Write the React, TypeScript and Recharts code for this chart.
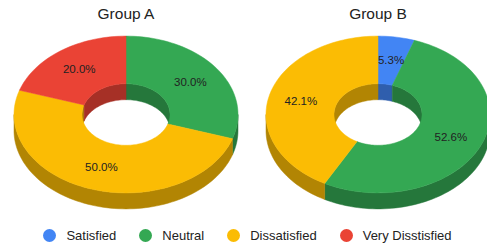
import { Cell, Legend, Pie, PieChart } from 'recharts'

const categories = ['Satisfied', 'Neutral', 'Dissatisfied', 'Very Disstisfied']
const groupA = [0, 3, 5, 2]
const groupB = [1, 10, 8, 0]
const titles = ['Group A', 'Group B']
const colors = ['#4285F4', '#34A853', '#FBBC04', '#EA4335']

const W = 487
const H = 243
const TILT = 0.7
const DEPTH = 16
const RAD = Math.PI / 180
const FONT = '"Liberation Sans", Arial, sans-serif'

function darken(hex: string, k = 0.71) {
  const n = parseInt(hex.slice(1), 16)
  const c = [(n >> 16) & 255, (n >> 8) & 255, n & 255].map((v) => Math.round(v * k))
  return `rgb(${c.join(',')})`
}

// points along an elliptical arc (angles in recharts degrees)
function arc(cx: number, cy: number, r: number, a0: number, a1: number, dy: number) {
  const n = Math.max(2, Math.ceil(Math.abs(a1 - a0) / 2))
  const pts: string[] = []
  for (let i = 0; i <= n; i++) {
    const a = (a0 + ((a1 - a0) * i) / n) * RAD
    pts.push(`${(cx + r * Math.cos(a)).toFixed(2)},${(cy - r * TILT * Math.sin(a) + dy).toFixed(2)}`)
  }
  return pts
}

function walls(cx: number, cy: number, r: number, lo: number, hi: number, from: number, fill: string, key: string) {
  const out: JSX.Element[] = []
  for (let k = -2; k <= 1; k++) {
    const i0 = Math.max(lo, from + 360 * k)
    const i1 = Math.min(hi, from + 180 + 360 * k)
    if (i1 - i0 <= 0) continue
    const pts = [...arc(cx, cy, r, i0, i1, 0), ...arc(cx, cy, r, i1, i0, DEPTH)]
    out.push(<polygon key={key + k} points={pts.join(' ')} fill={fill} stroke={fill} strokeWidth={0.5} />)
  }
  return out
}

function Slice3D(p: any) {
  const { cx, cy, innerRadius, outerRadius, startAngle, endAngle, fill } = p
  const lo = Math.min(startAngle, endAngle)
  const hi = Math.max(startAngle, endAngle)
  if (hi - lo <= 0) return <g />
  const side = darken(fill)
  const top = [...arc(cx, cy, outerRadius, lo, hi, 0), ...arc(cx, cy, innerRadius, hi, lo, 0)]
  return (
    <g>
      {walls(cx, cy, outerRadius, lo, hi, -180, side, 'o')}
      {walls(cx, cy, innerRadius, lo, hi, 0, side, 'i')}
      <polygon points={top.join(' ')} fill={fill} stroke={fill} strokeWidth={0.5} />
    </g>
  )
}

function SliceLabel(p: any) {
  const { cx, cy, midAngle, outerRadius, percent } = p
  if (!percent) return null
  const r = outerRadius * 0.71
  const x = cx + r * Math.cos(midAngle * RAD)
  const y = cy - r * TILT * Math.sin(midAngle * RAD)
  return (
    <text x={x} y={y} textAnchor="middle" dominantBaseline="central" fontSize={11.5} fontFamily={FONT} fill="#222">
      {(percent * 100).toFixed(1)}%
    </text>
  )
}

function LegendRow() {
  return (
    <div style={{ display: 'flex', justifyContent: 'center', gap: 23, paddingLeft: 8, fontFamily: FONT, fontSize: 13, color: '#222' }}>
      {categories.map((c, i) => (
        <div key={c} style={{ display: 'flex', alignItems: 'center', gap: 10 }}>
          <span style={{ width: 13, height: 13, borderRadius: '50%', background: colors[i], display: 'inline-block' }} />
          <span>{c}</span>
        </div>
      ))}
    </div>
  )
}

const groups = [groupA, groupB]
const centers = [126, 378]

export default function App() {
  return (
    <div style={{ width: W, height: H, background: '#fff' }}>
      <style>{'body{margin:0}'}</style>
      <PieChart width={W} height={H} margin={{ top: 0, right: 0, bottom: 0, left: 0 }}>
        {groups.map((g, gi) => (
          <Pie
            key={titles[gi]}
            data={categories.map((name, i) => ({ name, value: g[i] }))}
            dataKey="value"
            cx={centers[gi]}
            cy={114.5}
            innerRadius={44}
            outerRadius={112}
            startAngle={90}
            endAngle={-270}
            shape={Slice3D}
            label={SliceLabel}
            labelLine={false}
            stroke="none"
            isAnimationActive={false}
          >
            {categories.map((c, i) => <Cell key={c} fill={colors[i]} />)}
          </Pie>
        ))}
        {titles.map((t, i) => (
          <text key={t} x={centers[i]} y={19} textAnchor="middle" fontSize={15.5} fontFamily={FONT} fill="#222">{t}</text>
        ))}
        <Legend content={<LegendRow />} wrapperStyle={{ position: 'absolute', left: 0, top: 228, width: W }} />
      </PieChart>
    </div>
  )
}
